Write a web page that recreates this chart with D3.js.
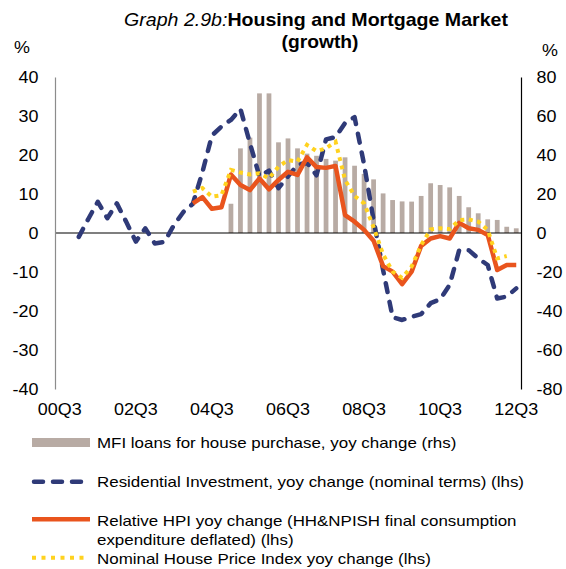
<!DOCTYPE html>
<html><head><meta charset="utf-8">
<script src="https://cdn.jsdelivr.net/npm/d3@7"></script>
<style>
body{margin:0;background:#fff}
text{font-family:"Liberation Sans",Arial,sans-serif;fill:#000}
</style>
</head><body><svg id="c" width="566" height="569"></svg>
<script>
const quarters = ["00Q3","00Q4","01Q1","01Q2","01Q3","01Q4","02Q1","02Q2","02Q3","02Q4",
"03Q1","03Q2","03Q3","03Q4","04Q1","04Q2","04Q3","04Q4","05Q1","05Q2","05Q3","05Q4",
"06Q1","06Q2","06Q3","06Q4","07Q1","07Q2","07Q3","07Q4","08Q1","08Q2","08Q3","08Q4",
"09Q1","09Q2","09Q3","09Q4","10Q1","10Q2","10Q3","10Q4","11Q1","11Q2","11Q3","11Q4",
"12Q1","12Q2","12Q3"];
const xTickLabels = ["00Q3","02Q3","04Q3","06Q3","08Q3","10Q3","12Q3"];
const lhsTicks = [-40,-30,-20,-10,0,10,20,30,40];
const rhsTicks = [-80,-60,-40,-20,0,20,40,60,80];

// MFI loans for house purchase, yoy change (rhs)
const mfiLoans = [null,null,null,null,null,null,null,null,null,null,
null,null,null,null,null,null,null,null,15.0,43.4,48.9,71.6,71.6,46.5,48.5,43.4,
40.7,39.6,38.0,37.1,38.8,34.5,30.3,27.5,20.3,16.9,16.2,16.1,19.0,25.5,24.6,23.4,
19.0,13.2,10.1,7.0,6.7,3.2,2.4];
// Residential Investment, yoy change (nominal terms) (lhs)
const resInvest = [null,null,-1.0,3.6,8.0,3.8,7.6,2.8,-2.2,1.2,
-2.7,-2.3,2.0,5.4,7.5,15.6,25.0,27.3,29.0,31.8,23.0,14.5,16.0,11.5,14.5,17.5,
18.0,14.8,24.0,24.6,28.2,29.7,17.6,3.3,-9.5,-21.6,-22.3,-21.5,-20.8,-18.0,-17.0,-13.3,
-4.4,-4.4,-6.5,-8.2,-16.8,-16.3,-14.2];
// Relative HPI yoy change (lhs)
const relHPI = [null,null,null,null,null,null,null,null,null,null,
null,null,null,null,7.6,9.2,6.2,6.6,15.0,12.3,11.0,14.0,11.2,13.6,15.7,14.9,
19.4,16.9,16.7,17.2,4.6,2.9,0.8,-2.0,-8.5,-9.9,-13.1,-9.9,-3.3,-1.4,-0.8,-1.4,
2.6,1.2,0.8,-0.5,-9.5,-8.2,-8.2];
// Nominal House Price Index yoy change (lhs)
const nomHPI = [null,null,null,null,null,null,null,null,null,null,
null,null,null,null,10.6,11.5,9.3,9.7,16.2,15.5,15.0,15.3,14.0,17.0,18.7,18.3,
22.6,21.0,21.7,23.4,13.6,9.5,7.6,1.5,-5.5,-9.9,-11.5,-8.6,-3.1,0.9,1.2,1.0,
3.3,3.5,2.9,0.8,-6.5,-5.9,null];

const legendLabels = [
  ["MFI loans for house purchase, yoy change (rhs)"],
  ["Residential Investment, yoy change (nominal terms) (lhs)"],
  ["Relative HPI yoy change (HH&NPISH final consumption","expenditure deflated) (lhs)"],
  ["Nominal House Price Index yoy change (lhs)"]
];

const C_BAR = "#b8aba4", C_NAVY = "#2f3a78", C_ORANGE = "#e9541d", C_YELLOW = "#ffd21f";
const SX = 1.1; // horizontal stretch of glyphs
const FONT = '"Liberation Sans",Arial,sans-serif';

const svg = d3.select("#c");
const x = d3.scaleBand().domain(quarters).range([55, 521]).padding(0);
const cx = q => x(q) + x.bandwidth() / 2;
const yL = d3.scaleLinear().domain([-40, 40]).range([389, 77]);
const yR = d3.scaleLinear().domain([-80, 80]).range([389, 77]);

// bars
const barW = x.bandwidth() * 0.5;
svg.append("g").selectAll("rect")
  .data(quarters.map((q, i) => ({q, v: mfiLoans[i]})).filter(d => d.v != null))
  .join("rect")
  .attr("x", d => cx(d.q) - barW / 2)
  .attr("width", barW)
  .attr("y", d => yR(Math.max(0, d.v)))
  .attr("height", d => Math.abs(yR(d.v) - yR(0)))
  .attr("fill", C_BAR);

// zero line
svg.append("line").attr("x1", 55).attr("x2", 521)
  .attr("y1", yL(0)).attr("y2", yL(0)).attr("stroke", "#000").attr("stroke-width", 1.2);

// axes
const fmt = d => String(d);
const axL = svg.append("g").attr("transform", "translate(55,0)")
  .call(d3.axisLeft(yL).tickValues(lhsTicks).tickSize(0).tickPadding(0).tickFormat(fmt));
axL.select(".domain").attr("stroke", "#8c8c8c").attr("stroke-width", 1.2);
axL.selectAll("text").attr("font-size", 16.3).attr("x", null)
  .attr("transform", `translate(-16.5,0) scale(${SX},1)`).attr("dy", "0.35em")
  .style("font-family", FONT);

const axR = svg.append("g").attr("transform", "translate(521,0)")
  .call(d3.axisRight(yR).tickValues(rhsTicks).tickSize(0).tickPadding(0).tickFormat(fmt));
axR.select(".domain").attr("stroke", "#000").attr("stroke-width", 1.2);
axR.selectAll("text").attr("font-size", 16.3).attr("x", null)
  .attr("transform", `translate(15.5,0) scale(${SX},1)`).attr("dy", "0.35em")
  .style("font-family", FONT);

const axB = svg.append("g").attr("transform", "translate(0,389)")
  .call(d3.axisBottom(x).tickValues(xTickLabels).tickSize(0).tickPadding(0));
axB.select(".domain").remove();
axB.selectAll("text").attr("font-size", 16.3).attr("y", null).attr("dy", null)
  .attr("transform", `translate(0,26) scale(${SX},1)`)
  .style("font-family", FONT);
axB.selectAll(".tick").attr("transform", d => `translate(${cx(d)},0)`);

// lines
function series(vals) {
  return quarters.map((q, i) => ({q, v: vals[i]}));
}
const line = d3.line().defined(d => d.v != null).x(d => cx(d.q)).y(d => yL(d.v));

svg.append("path").datum(series(resInvest)).attr("d", line)
  .attr("fill", "none").attr("stroke", C_NAVY).attr("stroke-width", 4.5)
  .attr("stroke-dasharray", "9,10").attr("stroke-linecap", "round").attr("stroke-linejoin", "round");
svg.append("path").datum(series(relHPI)).attr("d", line)
  .attr("fill", "none").attr("stroke", C_ORANGE).attr("stroke-width", 4.5)
  .attr("stroke-linejoin", "round");
svg.append("path").datum(series(nomHPI)).attr("d", line)
  .attr("fill", "none").attr("stroke", C_YELLOW).attr("stroke-width", 4)
  .attr("stroke-dasharray", "4,4.5");

// title
const t1 = svg.append("text").attr("text-anchor", "middle")
  .attr("transform", `translate(316,26) scale(${SX},1)`).attr("font-size", 17.8);
t1.append("tspan").attr("font-style", "italic").text("Graph 2.9b:");
t1.append("tspan").attr("font-weight", "bold").text("Housing and Mortgage Market");
svg.append("text").attr("text-anchor", "middle")
  .attr("transform", `translate(320,48) scale(${SX},1)`).attr("font-size", 17.5)
  .attr("font-weight", "bold").text("(growth)");

svg.append("text").attr("text-anchor", "middle")
  .attr("transform", `translate(22,53) scale(${SX},1)`).attr("font-size", 16.3).text("%");
svg.append("text").attr("text-anchor", "middle")
  .attr("transform", `translate(550,56) scale(${SX},1)`).attr("font-size", 16.3).text("%");

// legend
const lg = svg.append("g");
const rowY = [442.5, 481.7, 519.3, 557.7];
const textY = [[447.7], [486.7], [526, 545], [564]];
lg.append("rect").attr("x", 32).attr("y", rowY[0] - 4.5).attr("width", 58).attr("height", 9).attr("fill", C_BAR);
lg.append("line").attr("x1", 34).attr("x2", 82).attr("y1", rowY[1]).attr("y2", rowY[1])
  .attr("stroke", C_NAVY).attr("stroke-width", 4.5).attr("stroke-dasharray", "9,10").attr("stroke-linecap", "round");
lg.append("line").attr("x1", 32).attr("x2", 90).attr("y1", rowY[2]).attr("y2", rowY[2])
  .attr("stroke", C_ORANGE).attr("stroke-width", 4.5);
lg.append("line").attr("x1", 32).attr("x2", 88).attr("y1", rowY[3]).attr("y2", rowY[3])
  .attr("stroke", C_YELLOW).attr("stroke-width", 4).attr("stroke-dasharray", "4,5.5");
legendLabels.forEach((lines, i) => {
  lines.forEach((s, j) => {
    lg.append("text").attr("transform", `translate(97,${textY[i][j]}) scale(${SX},1)`)
      .attr("font-size", 15.4).text(s);
  });
});
</script>
</body></html>
